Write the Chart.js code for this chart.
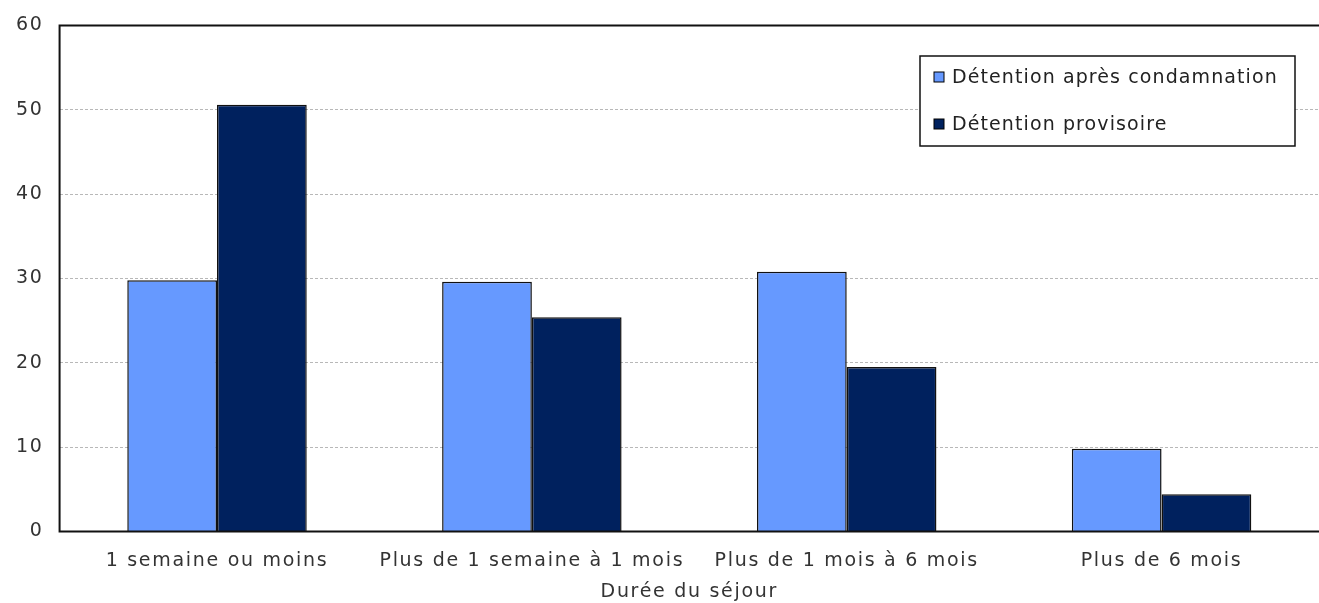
<!DOCTYPE html>
<html lang="fr">
<head>
<meta charset="utf-8">
<script src="https://cdn.jsdelivr.net/npm/chart.js@4.4.1/dist/chart.umd.min.js"></script>
<style>
  html, body { margin: 0; padding: 0; background: #fff; }
  #wrap { width: 1319px; height: 603px; }
</style>
</head>
<body>
<div id="wrap"><canvas id="sejourChart" width="1319" height="603"></canvas></div>
<script>
const categories = ["1 semaine ou moins", "Plus de 1 semaine à 1 mois", "Plus de 1 mois à 6 mois", "Plus de 6 mois"];
const apresCondamnation = [29.8, 29.6, 30.8, 9.8];
const provisoire = [50.6, 25.4, 19.5, 4.4];
const seriesNames = ["Détention après condamnation", "Détention provisoire"];
const seriesColors = ["#6699ff", "#00215e"];
const yTicks = [0, 10, 20, 30, 40, 50, 60];

const FONT = "Verdana, 'DejaVu Sans', sans-serif";
const SPACING = "1.7px";

// texte un peu plus espacé (le canvas perd cet état à chaque redimensionnement)
const spacing = {
  id: "spacing",
  beforeLayout(chart) { chart.ctx.letterSpacing = SPACING; },
  beforeDraw(chart) { chart.ctx.letterSpacing = SPACING; },
};

// cadre noir : gauche, haut et bas de la zone de tracé
const frame = {
  id: "frame",
  afterDatasetsDraw(chart) {
    const { ctx, chartArea: a } = chart;
    ctx.save();
    ctx.strokeStyle = "#111";
    ctx.lineWidth = 2;
    ctx.beginPath();
    ctx.moveTo(chart.width, a.top);
    ctx.lineTo(a.left, a.top);
    ctx.lineTo(a.left, a.bottom);
    ctx.lineTo(chart.width, a.bottom);
    ctx.stroke();
    ctx.restore();
  },
};

// légende encadrée dans le coin supérieur droit
const boxLegend = {
  id: "boxLegend",
  afterDraw(chart) {
    const { ctx, chartArea: a } = chart;
    const w = 375, h = 90;
    const x = 920, y = 56;
    ctx.save();
    ctx.fillStyle = "#fff";
    ctx.fillRect(x, y, w, h);
    ctx.strokeStyle = "#111";
    ctx.lineWidth = 1.5;
    ctx.strokeRect(x, y, w, h);
    ctx.font = "19px " + FONT;
    ctx.letterSpacing = "1.1px";
    ctx.textBaseline = "middle";
    chart.data.datasets.forEach((ds, i) => {
      const cy = y + 21 + i * 47;
      ctx.fillStyle = ds.backgroundColor;
      ctx.fillRect(x + 14, cy - 5, 10, 10);
      ctx.strokeStyle = "#000";
      ctx.lineWidth = 1;
      ctx.strokeRect(x + 14, cy - 5, 10, 10);
      ctx.fillStyle = "#222";
      ctx.fillText(ds.label, x + 32, cy + 1);
    });
    ctx.restore();
  },
};

new Chart(document.getElementById("sejourChart"), {
  type: "bar",
  data: {
    labels: categories,
    datasets: [
      {
        label: seriesNames[0],
        data: apresCondamnation,
        backgroundColor: seriesColors[0],
        borderColor: "#111",
        borderWidth: 1.5,
      },
      {
        label: seriesNames[1],
        data: provisoire,
        backgroundColor: seriesColors[1],
        borderColor: "#111",
        borderWidth: 1.5,
      },
    ],
  },
  options: {
    responsive: false,
    animation: false,
    categoryPercentage: 0.57,
    barPercentage: 1,
    layout: { padding: { top: 2, right: 0, left: 0, bottom: 0 } },
    plugins: {
      legend: { display: false },
      tooltip: { enabled: false },
    },
    scales: {
      x: {
        grid: { display: false },
        border: { display: false },
        ticks: { color: "#333", font: { family: FONT, size: 19 }, padding: 10, maxRotation: 0, autoSkip: false },
        title: { display: true, text: "Durée du séjour", color: "#333", font: { family: FONT, size: 19 }, padding: { top: -2, bottom: 0 } },
      },
      y: {
        min: 0,
        max: 60,
        afterBuildTicks(scale) {
          scale.ticks = yTicks.map((v) => ({ value: v }));
        },
        grid: {
          drawTicks: false,
          color: (c) => (c.tick.value === 0 || c.tick.value === 60 ? "rgba(0,0,0,0)" : "#b8b8b8"),
        },
        border: { display: false, dash: [3, 2] },
        ticks: { color: "#333", font: { family: FONT, size: 19, lineHeight: 1 }, padding: 16 },
      },
    },
  },
  plugins: [spacing, frame, boxLegend],
});
</script>
</body>
</html>
